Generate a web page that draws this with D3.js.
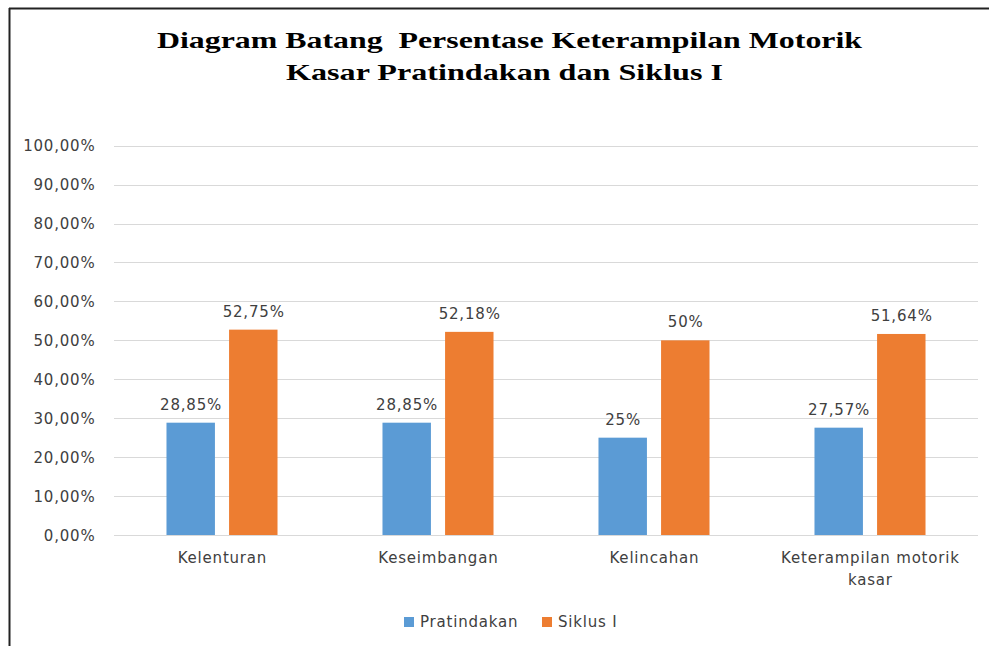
<!DOCTYPE html>
<html>
<head>
<meta charset="utf-8">
<script src="https://cdn.jsdelivr.net/npm/d3@7"></script>
<style>
  html, body { margin: 0; padding: 0; background: #fff; }
  svg { display: block; }
</style>
</head>
<body>
<svg id="chart" width="989" height="646"></svg>
<script>
// ---- data ----
const titleLines = ["Diagram Batang  Persentase Keterampilan Motorik", "Kasar Pratindakan dan Siklus I"];
const categories = ["Kelenturan", "Keseimbangan", "Kelincahan", "Keterampilan motorik kasar"];
const categoryLines = [["Kelenturan"], ["Keseimbangan"], ["Kelincahan"], ["Keterampilan motorik", "kasar"]];
const seriesNames = ["Pratindakan", "Siklus I"];
const pratindakan = [0.2885, 0.2885, 0.25, 0.2757];
const siklusI = [0.5275, 0.5218, 0.50, 0.5164];
const pratindakanLabels = ["28,85%", "28,85%", "25%", "27,57%"];
const siklusILabels = ["52,75%", "52,18%", "50%", "51,64%"];
const yTicks = [0, 0.1, 0.2, 0.3, 0.4, 0.5, 0.6, 0.7, 0.8, 0.9, 1.0];
const yTickLabels = ["0,00%", "10,00%", "20,00%", "30,00%", "40,00%", "50,00%", "60,00%", "70,00%", "80,00%", "90,00%", "100,00%"];
const colors = ["#5b9bd5", "#ed7d31"];

const series = [
  { name: seriesNames[0], values: pratindakan, labels: pratindakanLabels, color: colors[0] },
  { name: seriesNames[1], values: siklusI, labels: siklusILabels, color: colors[1] }
];

const svg = d3.select("#chart");
const font = "'DejaVu Sans', sans-serif";
const textColor = "#404040";

// outer frame (left and top edges)
svg.append("line").attr("x1", 9.5).attr("x2", 9.5).attr("y1", 8).attr("y2", 646)
  .attr("stroke", "#222").attr("stroke-width", 2);
svg.append("line").attr("x1", 9).attr("x2", 989).attr("y1", 8.5).attr("y2", 8.5)
  .attr("stroke", "#222").attr("stroke-width", 2);

// title
const titleWidths = [705, 437];
const titleCenters = [509.5, 504.5];
const titleBaselines = [48, 80];
titleLines.forEach((t, i) => {
  svg.append("text")
    .attr("x", titleCenters[i] - titleWidths[i] / 2)
    .attr("y", titleBaselines[i])
    .attr("font-family", "'Liberation Serif', 'Times New Roman', serif")
    .attr("font-weight", "bold")
    .attr("font-size", 24)
    .attr("fill", "#000")
    .attr("textLength", titleWidths[i])
    .attr("lengthAdjust", "spacingAndGlyphs")
    .attr("xml:space", "preserve")
    .style("white-space", "pre")
    .text(t);
});

// scales
const plotLeft = 114, plotRight = 978;
const x0 = d3.scaleBand().domain(categories).range([plotLeft, plotRight]).paddingInner(0.486).paddingOuter(0.243);
const x1 = d3.scaleBand().domain(seriesNames).range([0, x0.bandwidth()]).paddingInner(0.226);
const y = d3.scaleLinear().domain([0, 1]).range([535, 145.7]);

// gridlines
svg.append("g").selectAll("line").data(yTicks).join("line")
  .attr("x1", plotLeft).attr("x2", plotRight)
  .attr("y1", d => Math.round(y(d)) + 0.5).attr("y2", d => Math.round(y(d)) + 0.5)
  .attr("stroke", "#d9d9d9").attr("stroke-width", 1);

// y axis labels
svg.append("g").selectAll("text").data(yTicks).join("text")
  .attr("x", 95.5)
  .attr("y", d => y(d) + 5.5)
  .attr("text-anchor", "end")
  .attr("font-family", font).attr("font-size", 15)
  .attr("letter-spacing", "0.8px")
  .attr("fill", textColor)
  .text((d, i) => yTickLabels[i]);

// bars
const groups = svg.append("g").selectAll("g").data(series).join("g");
groups.selectAll("rect").data(s => s.values.map((v, i) => ({ v, i, s }))).join("rect")
  .attr("x", d => x0(categories[d.i]) + x1(d.s.name))
  .attr("y", d => y(d.v))
  .attr("width", x1.bandwidth())
  .attr("height", d => y(0) - y(d.v))
  .attr("fill", d => d.s.color);

// value labels
groups.selectAll("text").data(s => s.values.map((v, i) => ({ v, i, s }))).join("text")
  .attr("x", d => x0(categories[d.i]) + x1(d.s.name) + x1.bandwidth() / 2 + 0.4)
  .attr("y", d => y(d.v) - 13)
  .attr("text-anchor", "middle")
  .attr("font-family", font).attr("font-size", 15)
  .attr("letter-spacing", "0.8px")
  .attr("fill", textColor)
  .text(d => d.s.labels[d.i]);

// category labels
const catG = svg.append("g").selectAll("text").data(categories).join("text")
  .attr("text-anchor", "middle")
  .attr("font-family", font).attr("font-size", 15)
  .attr("letter-spacing", "0.8px")
  .attr("fill", textColor);
catG.each(function (c, i) {
  const cx = x0(c) + x0.bandwidth() / 2 + 0.4;
  d3.select(this).selectAll("tspan").data(categoryLines[i]).join("tspan")
    .attr("x", cx)
    .attr("y", (d, j) => 563 + j * 22)
    .text(d => d);
});

// legend
const legendItems = [{ x: 404 }, { x: 542 }];
const lg = svg.append("g").selectAll("g").data(series).join("g")
  .attr("transform", (d, i) => `translate(${legendItems[i].x},617)`);
lg.append("rect").attr("width", 10).attr("height", 10).attr("fill", d => d.color);
lg.append("text").attr("x", 16).attr("y", 10)
  .attr("font-family", font).attr("font-size", 15)
  .attr("letter-spacing", "0.8px")
  .attr("fill", textColor)
  .text(d => d.name);
</script>
</body>
</html>
